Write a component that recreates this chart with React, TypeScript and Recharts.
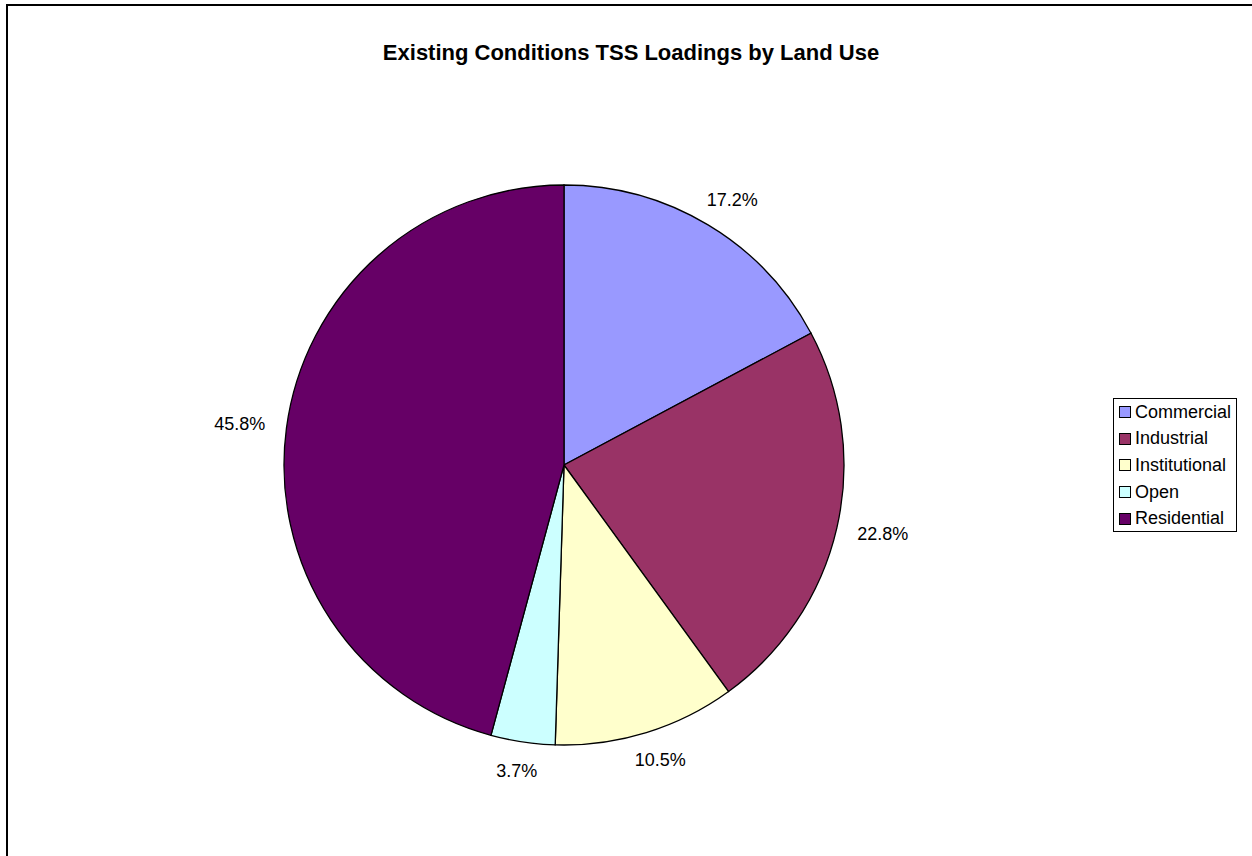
import React from 'react';
import { PieChart, Pie, Cell, Legend } from 'recharts';

const categories = ['Commercial', 'Industrial', 'Institutional', 'Open', 'Residential'];
const shares = [17.2, 22.8, 10.5, 3.7, 45.8];
const sliceColors = ['#9999FF', '#993366', '#FFFFCC', '#CCFFFF', '#660066'];

const chartData = categories.map((name, i) => ({ name, value: shares[i] }));

const RADIAN = Math.PI / 180;
const FONT = 'Arial, "Liberation Sans", Helvetica, sans-serif';
const LABEL_SIZE = 18;

// label box sits just outside the rim, pushed out by half its own size
const renderLabel = (props: any) => {
  const { cx, cy, midAngle, outerRadius, percent } = props;
  const text = `${(percent * 100).toFixed(1)}%`;
  const w = text.length * 0.6 * LABEL_SIZE;
  const h = LABEL_SIZE;
  const cos = Math.cos(-midAngle * RADIAN);
  const sin = Math.sin(-midAngle * RADIAN);
  const radius = outerRadius + 20;
  const x = cx + radius * cos + (w / 2) * cos;
  const y = cy + radius * sin + (h / 2) * sin;
  return (
    <text
      x={x}
      y={y}
      fill="#000"
      fontSize={LABEL_SIZE}
      fontFamily={FONT}
      textAnchor="middle"
      dominantBaseline="central"
    >
      {text}
    </text>
  );
};

const renderLegend = (props: any) => {
  const { payload } = props;
  return (
    <div
      style={{
        boxSizing: 'border-box',
        border: '1px solid #000',
        background: '#fff',
        padding: '0 0 0 5px',
        fontFamily: FONT,
        fontSize: 18,
        width: 124,
        height: 134,
      }}
    >
      {(payload || []).map((item: any) => (
        <div key={item.value} style={{ display: 'flex', alignItems: 'center', height: 26.6, whiteSpace: 'nowrap' }}>
          <span
            style={{
              display: 'inline-block',
              width: 10,
              height: 10,
              border: '1.5px solid #000',
              background: item.color,
              marginRight: 4,
            }}
          />
          <span>{item.value}</span>
        </div>
      ))}
    </div>
  );
};

export default function App() {
  return (
    <div style={{ position: 'relative', width: 1252, height: 856, overflow: 'hidden', background: '#fff' }}>
      <style>{`body { margin: 0; }`}</style>
      <div
        style={{
          position: 'absolute',
          left: 6,
          top: 4,
          width: 1300,
          height: 900,
          borderLeft: '2px solid #000',
          borderTop: '2px solid #000',
        }}
      />
      <div
        style={{
          position: 'absolute',
          left: 0,
          top: 40,
          width: 1262,
          textAlign: 'center',
          fontFamily: FONT,
          fontWeight: 'bold',
          fontSize: 22,
        }}
      >
        Existing Conditions TSS Loadings by Land Use
      </div>
      <div style={{ position: 'absolute', left: 0, top: 0 }}>
        <PieChart width={1252} height={856} margin={{ top: 0, right: 0, bottom: 0, left: 0 }}>
          <Pie
            data={chartData}
            dataKey="value"
            nameKey="name"
            cx={564}
            cy={465}
            outerRadius={280}
            startAngle={90}
            endAngle={-270}
            isAnimationActive={false}
            label={renderLabel}
            labelLine={false}
            stroke="#000"
            strokeWidth={1.3}
          >
            {chartData.map((entry, index) => (
              <Cell key={`cell-${entry.name}`} fill={sliceColors[index]} stroke="#000" />
            ))}
          </Pie>
          <Legend
            content={renderLegend}
            wrapperStyle={{ position: 'absolute', left: 1113, top: 398, width: 'auto', bottom: 'auto', right: 'auto' }}
          />
        </PieChart>
      </div>
    </div>
  );
}
